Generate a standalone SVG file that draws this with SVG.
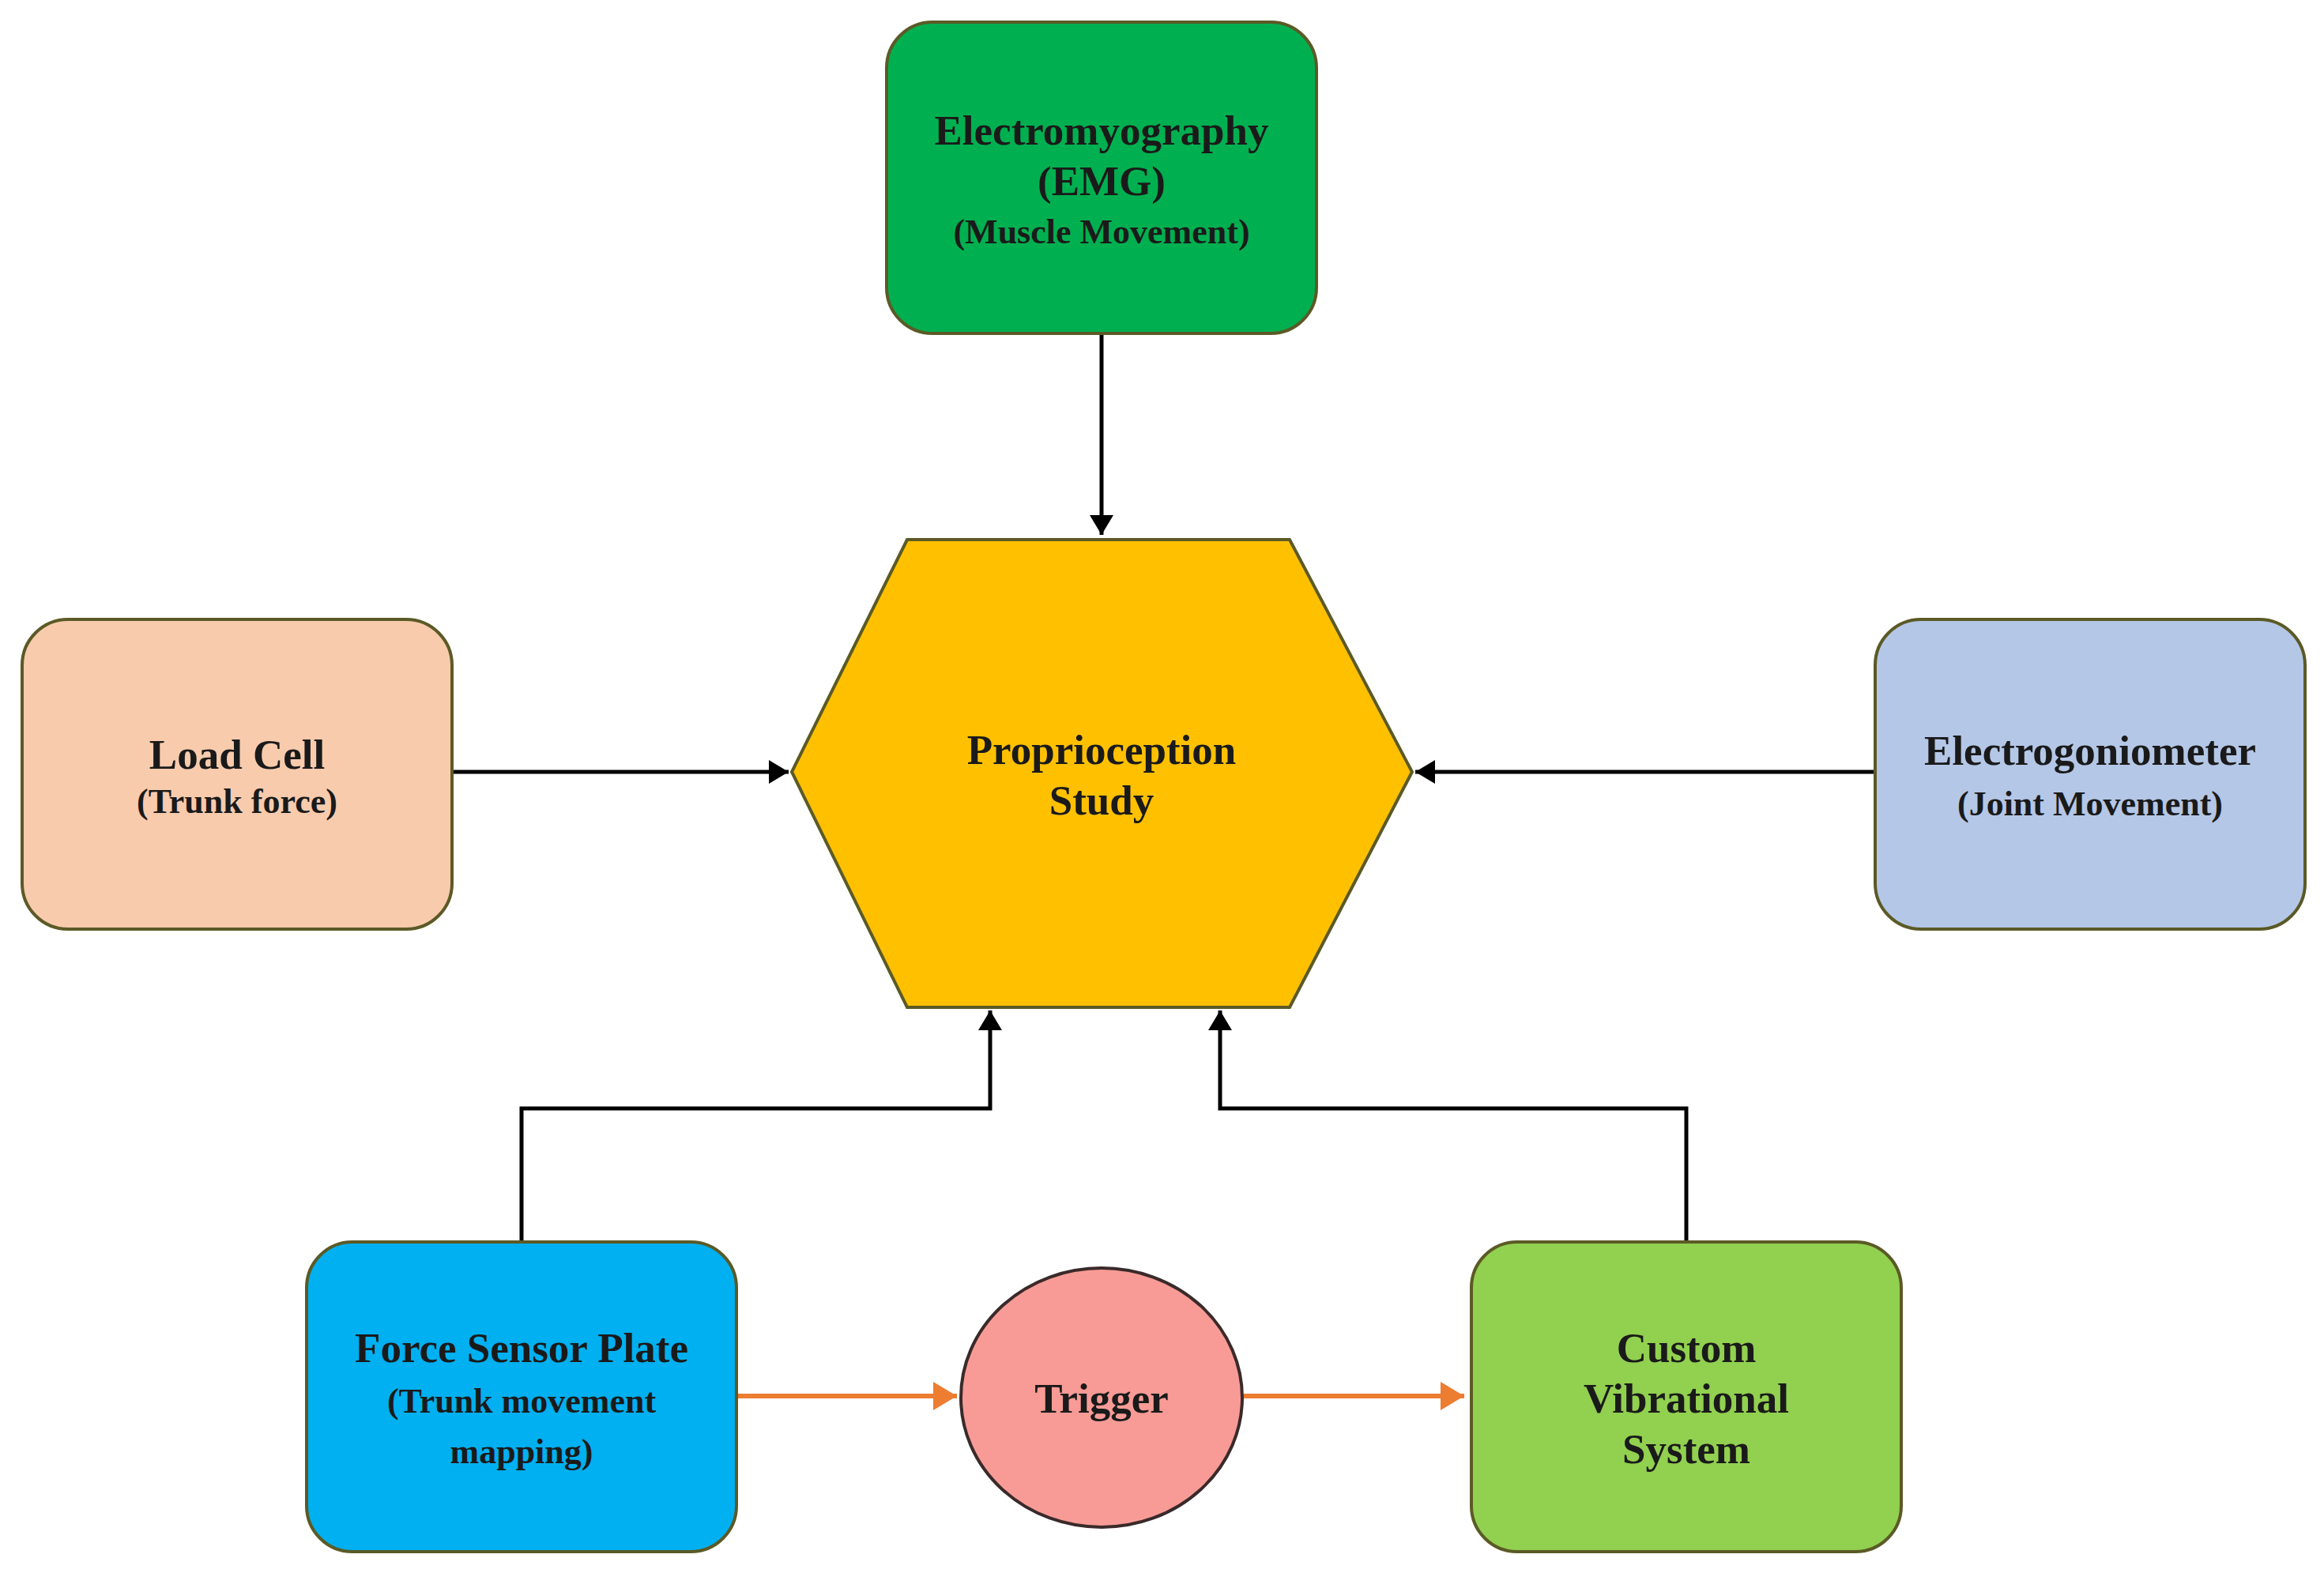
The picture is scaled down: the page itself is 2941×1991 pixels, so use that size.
<svg xmlns="http://www.w3.org/2000/svg" width="2941" height="1991" viewBox="0 0 2941 1991">
<style>
.t{font-family:"Liberation Serif","Times New Roman",serif;font-weight:bold;text-anchor:middle;fill:#1a1a1a}
.m{font-size:53px}
.s{font-size:44px}
.box{stroke:#5b5a26;stroke-width:4}
.conn{fill:none;stroke:#000;stroke-width:5}
.org{fill:none;stroke:#ED7D31;stroke-width:6}
</style>
<defs>
<marker id="ab" markerWidth="6" markerHeight="6" refX="5" refY="3" orient="auto" markerUnits="strokeWidth"><path d="M0,0 L5,3 L0,6 z" fill="#000"/></marker>
<marker id="ao" markerWidth="6" markerHeight="6" refX="5" refY="3" orient="auto" markerUnits="strokeWidth"><path d="M0,0 L5,3 L0,6 z" fill="#ED7D31"/></marker>
</defs>
<rect width="2941" height="1991" fill="#fff"/>
<g id="connectors">
<path class="conn" d="M1394,422 L1394,677" marker-end="url(#ab)"/>
<path class="conn" d="M572,977 L998,977" marker-end="url(#ab)"/>
<path class="conn" d="M2373,977 L1791,977" marker-end="url(#ab)"/>
<path class="conn" d="M660,1572 L660,1403 L1253,1403 L1253,1279" marker-end="url(#ab)"/>
<path class="conn" d="M2134,1572 L2134,1403 L1544,1403 L1544,1279" marker-end="url(#ab)"/>
<path class="org" d="M932,1767 L1211,1767" marker-end="url(#ao)"/>
<path class="org" d="M1572,1767 L1853,1767" marker-end="url(#ao)"/>
</g>
<g id="emg">
<rect class="box" x="1122" y="28" width="544" height="394" rx="58" fill="#00B050"/>
<text class="t m" x="1394" y="183">Electromyography</text>
<text class="t m" x="1394" y="247">(EMG)</text>
<text class="t s" x="1394" y="308">(Muscle Movement)</text>
</g>
<g id="proprioception">
<polygon class="box" points="1148,683 1632,683 1787,977 1632,1275 1148,1275 1002,977" fill="#FFC000"/>
<text class="t m" x="1394" y="967">Proprioception</text>
<text class="t m" x="1394" y="1031">Study</text>
</g>
<g id="loadcell">
<rect class="box" x="28" y="784" width="544" height="392" rx="58" fill="#F8CBAD"/>
<text class="t m" x="300" y="973">Load Cell</text>
<text class="t s" x="300" y="1029">(Trunk force)</text>
</g>
<g id="electrogoniometer">
<rect class="box" x="2373" y="784" width="544" height="392" rx="58" fill="#B4C7E7"/>
<text class="t m" x="2645" y="968">Electrogoniometer</text>
<text class="t s" x="2645" y="1032">(Joint Movement)</text>
</g>
<g id="forcesensor">
<rect class="box" x="388" y="1572" width="544" height="392" rx="58" fill="#00B0F0"/>
<text class="t m" x="660" y="1724">Force Sensor Plate</text>
<text class="t s" x="660" y="1788">(Trunk movement</text>
<text class="t s" x="660" y="1852">mapping)</text>
</g>
<g id="trigger">
<ellipse cx="1394" cy="1769" rx="178" ry="164" fill="#F89B96" stroke="#3a2a2a" stroke-width="4"/>
<text class="t m" x="1394" y="1788">Trigger</text>
</g>
<g id="vibrational">
<rect class="box" x="1862" y="1572" width="544" height="392" rx="58" fill="#92D050"/>
<text class="t m" x="2134" y="1724">Custom</text>
<text class="t m" x="2134" y="1788">Vibrational</text>
<text class="t m" x="2134" y="1852">System</text>
</g>
</svg>
